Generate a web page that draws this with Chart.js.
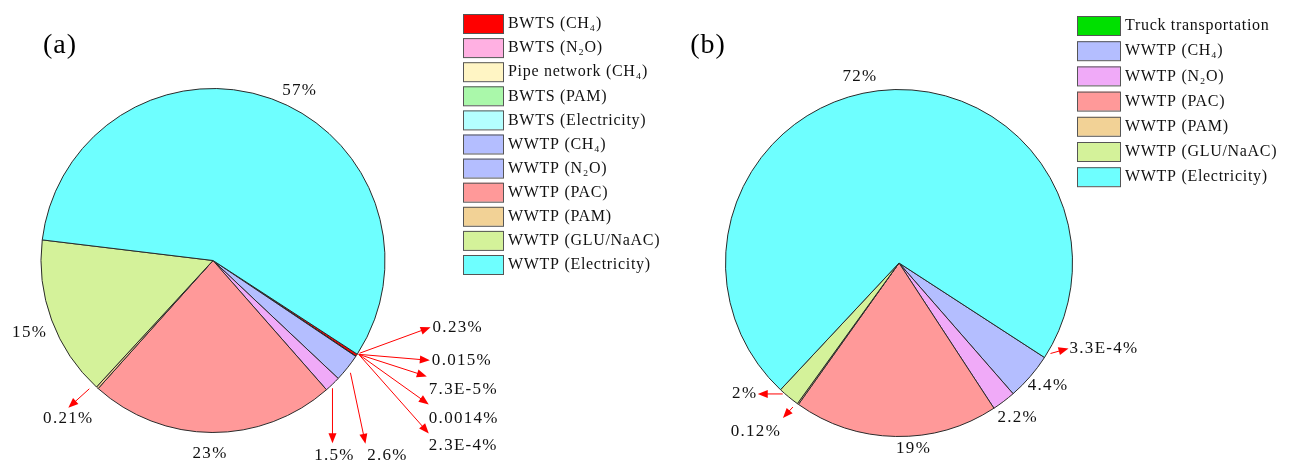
<!DOCTYPE html>
<html>
<head>
<meta charset="utf-8">
<script src="https://cdn.jsdelivr.net/npm/chart.js@4.4.1/dist/chart.umd.min.js"></script>
<style>
  html, body { margin: 0; padding: 0; background: #fff; }
  #wrap { position: relative; width: 1298px; height: 463px; overflow: hidden; }
  .panel { position: absolute; top: 0; height: 463px; }
  #panelA { left: 0; width: 680px; }
  #panelB { left: 680px; width: 618px; }
</style>
</head>
<body>
<div id="wrap">
  <div class="panel" id="panelA"><canvas id="chartA"></canvas></div>
  <div class="panel" id="panelB"><canvas id="chartB"></canvas></div>
</div>
<script>
// panel (a)
const categoriesA = ['BWTS (CH₄)', 'BWTS (N₂O)', 'Pipe network (CH₄)', 'BWTS (PAM)', 'BWTS (Electricity)',
  'WWTP (CH₄)', 'WWTP (N₂O)', 'WWTP (PAC)', 'WWTP (PAM)', 'WWTP (GLU/NaAC)', 'WWTP (Electricity)'];
const valuesA = [0.23, 0.015, 0.000073, 0.0014, 0.00023, 2.6, 1.5, 23, 0.21, 15, 57];
const pctLabelsA = ['0.23%', '0.015%', '7.3E-5%', '0.0014%', '2.3E-4%', '2.6%', '1.5%', '23%', '0.21%', '15%', '57%'];
const colorsA = ['#ff0000', '#ffb0e2', '#fff5c4', '#aaf8aa', '#b4ffff',
  '#b4beff', '#f0aaf8', '#ff9999', '#f2d296', '#d4f29a', '#6effff'];
const legendColorsA = ['#ff0000', '#ffb0e2', '#fff5c4', '#aaf8aa', '#b4ffff',
  '#b4beff', '#b4beff', '#ff9999', '#f2d296', '#d4f29a', '#6effff'];

// panel (b)
const categoriesB = ['Truck transportation', 'WWTP (CH₄)', 'WWTP (N₂O)', 'WWTP (PAC)', 'WWTP (PAM)',
  'WWTP (GLU/NaAC)', 'WWTP (Electricity)'];
const valuesB = [0.00033, 4.4, 2.2, 19, 0.12, 2, 72];
const pctLabelsB = ['3.3E-4%', '4.4%', '2.2%', '19%', '0.12%', '2%', '72%'];
const colorsB = ['#00e000', '#b4beff', '#f0aaf8', '#ff9999', '#f2d296', '#d4f29a', '#6effff'];

// label placement, offsets from the arc edge at each slice's middle angle
// t = text, a = text align, tail/head = red arrow (optional)
const placeA = [
  { t: [76, -28], a: 'left', tail: [3, -2], head: [74, -28] },
  { t: [76, 4], a: 'left', tail: [3, -2], head: [74, 4] },
  { t: [73, 33], a: 'left', tail: [3, -2], head: [71, 20] },
  { t: [73, 62], a: 'left', tail: [3, -2], head: [73, 48] },
  { t: [73, 89], a: 'left', tail: [3, -2], head: [73, 77] },
  { t: [40, 88], a: 'center', tail: [3, 5], head: [18, 76] },
  { t: [2, 71], a: 'center', tail: [0, 4], head: [0, 59] },
  { t: [-2, 21], a: 'center' },
  { t: [-29, 31], a: 'center', tail: [-8, 1], head: [-29, 20] },
  { t: [-22, 13], a: 'center' },
  { t: [28, -8], a: 'center' }
];
const placeB = [
  { t: [25, -9], a: 'left', tail: [6, -4], head: [24, -9] },
  { t: [18, 9], a: 'center' },
  { t: [14, 16], a: 'center' },
  { t: [18, 12], a: 'center' },
  { t: [-42, 28], a: 'center', tail: [-5, 3], head: [-15, 14] },
  { t: [-44, -3], a: 'center', tail: [-6, -3], head: [-31, -3] },
  { t: [-18, -14], a: 'center' }
];

const serif = '"Liberation Serif", "Times New Roman", serif';

function drawArrow(ctx, x1, y1, x2, y2) {
  const ang = Math.atan2(y2 - y1, x2 - x1);
  const len = 10, w = 4;
  const c = Math.cos(ang), s = Math.sin(ang);
  ctx.beginPath();
  ctx.moveTo(x1, y1);
  ctx.lineTo(x2 - c * len * 0.5, y2 - s * len * 0.5);
  ctx.stroke();
  ctx.beginPath();
  ctx.moveTo(x2, y2);
  ctx.lineTo(x2 - c * len + s * w, y2 - s * len - c * w);
  ctx.lineTo(x2 - c * len - s * w, y2 - s * len + c * w);
  ctx.closePath();
  ctx.fill();
}

function piePlugin(cfg) {
  return {
    id: 'pieDecor' + cfg.tag,
    afterDraw(chart) {
      const ctx = chart.ctx;
      const meta = chart.getDatasetMeta(0);
      ctx.save();

      // panel letter
      ctx.font = '28px ' + serif;
      ctx.letterSpacing = '1px';
      ctx.fillStyle = '#000';
      ctx.textAlign = 'center';
      ctx.textBaseline = 'middle';
      ctx.fillText(cfg.tag, cfg.tagX, 46);

      // percentage labels + arrows
      ctx.font = '17px ' + serif;
      ctx.letterSpacing = '1.3px';
      ctx.strokeStyle = '#ff0000';
      ctx.lineWidth = 1;
      meta.data.forEach((arc, i) => {
        const p = arc.getProps(['x', 'y', 'startAngle', 'endAngle', 'outerRadius'], true);
        const mid = (p.startAngle + p.endAngle) / 2;
        const ex = p.x + Math.cos(mid) * p.outerRadius;
        const ey = p.y + Math.sin(mid) * p.outerRadius;
        const pl = cfg.place[i];
        if (pl.tail) {
          ctx.fillStyle = '#ff0000';
          drawArrow(ctx, ex + pl.tail[0], ey + pl.tail[1], ex + pl.head[0], ey + pl.head[1]);
        }
        ctx.fillStyle = '#111';
        ctx.textAlign = pl.a;
        ctx.fillText(cfg.texts[i], ex + pl.t[0], ey + pl.t[1]);
      });

      // legend
      ctx.font = '16px ' + serif;
      ctx.letterSpacing = '0.7px';
      ctx.textAlign = 'left';
      ctx.lineWidth = 1;
      ctx.strokeStyle = '#555';
      cfg.labels.forEach((lab, i) => {
        const top = cfg.legTop + i * cfg.legStep;
        ctx.fillStyle = cfg.legColors[i];
        ctx.fillRect(cfg.legX, top, cfg.boxW, 19);
        ctx.strokeRect(cfg.legX + 0.5, top + 0.5, cfg.boxW, 19);
        ctx.fillStyle = '#111';
        ctx.fillText(lab, cfg.legX + cfg.boxW + 5, top + 10);
      });
      ctx.restore();
    }
  };
}

function makePie(id, labels, values, colors, rotation, padding, plugin) {
  return new Chart(document.getElementById(id), {
    type: 'pie',
    data: {
      labels: labels,
      datasets: [{
        data: values,
        backgroundColor: colors,
        borderColor: '#2a2a2a',
        borderWidth: 1
      }]
    },
    options: {
      responsive: true,
      maintainAspectRatio: false,
      animation: false,
      events: [],
      rotation: rotation,
      layout: { padding: padding },
      plugins: {
        legend: { display: false },
        tooltip: { enabled: false }
      }
    },
    plugins: [plugin]
  });
}

makePie('chartA', categoriesA, valuesA, colorsA, 123,
  { left: 40, right: 294, top: 88, bottom: 30 },
  piePlugin({ tag: '(a)', tagX: 60, texts: pctLabelsA, place: placeA, labels: categoriesA,
    legColors: legendColorsA, legX: 463, legTop: 14, legStep: 24.1, boxW: 40 }));

makePie('chartB', categoriesB, valuesB, colorsB, 123,
  { left: 45, right: 225, top: 89, bottom: 26 },
  piePlugin({ tag: '(b)', tagX: 28, texts: pctLabelsB, place: placeB, labels: categoriesB,
    legColors: colorsB, legX: 397, legTop: 16, legStep: 25.2, boxW: 43 }));
</script>
</body>
</html>
